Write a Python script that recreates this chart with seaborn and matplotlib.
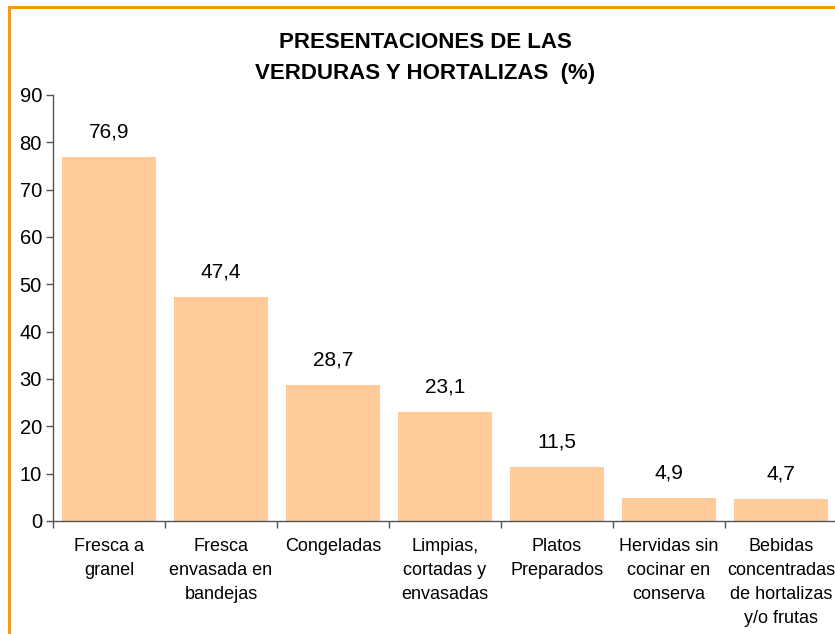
import matplotlib
matplotlib.use("Agg")
import matplotlib.pyplot as plt
import seaborn as sns
import pandas as pd
from matplotlib.patches import Rectangle
from matplotlib.ticker import FixedLocator

categories = [
    "Fresca a\ngranel",
    "Fresca\nenvasada en\nbandejas",
    "Congeladas",
    "Limpias,\ncortadas y\nenvasadas",
    "Platos\nPreparados",
    "Hervidas sin\ncocinar en\nconserva",
    "Bebidas\nconcentradas\nde hortalizas\ny/o frutas",
]
values = [76.9, 47.4, 28.7, 23.1, 11.5, 4.9, 4.7]
value_labels = ["76,9", "47,4", "28,7", "23,1", "11,5", "4,9", "4,7"]
y_ticks = [0, 10, 20, 30, 40, 50, 60, 70, 80, 90]

sns.set_style("white")
plt.rcParams["font.family"] = ["Liberation Sans", "DejaVu Sans"]
plt.rcParams["text.color"] = "black"

W, H = 835, 634
fig = plt.figure(figsize=(W / 100, H / 100), dpi=100)
fig.patch.set_facecolor("white")

# orange frame around the chart area
fig.patches.append(Rectangle((9 / W, -0.05), 1.2, (H - 7) / H + 0.05,
                             transform=fig.transFigure, fill=False,
                             edgecolor="#FF9900", linewidth=2.2))

ax = fig.add_axes([53 / W, (H - 521) / H, (837 - 53) / W, (521 - 95) / H])
ax.set_facecolor("none")

df = pd.DataFrame({"cat": categories, "val": values})
sns.barplot(data=df, x="cat", y="val", color="#FFCC99", saturation=1,
            width=0.84, ax=ax, edgecolor="none")

ax.set_xlim(-0.5, len(categories) - 0.5)
ax.set_ylim(0, 90)
ax.set_yticks(y_ticks)
ax.set_xlabel("")
ax.set_ylabel("")

for i, (v, lab) in enumerate(zip(values, value_labels)):
    ax.annotate(lab, (i, v), xytext=(0, 11), textcoords="offset points",
                ha="center", va="bottom", fontsize=15, color="black")

for s in ["top", "right"]:
    ax.spines[s].set_visible(False)
for s in ["left", "bottom"]:
    ax.spines[s].set_color("#555555")
    ax.spines[s].set_linewidth(1.0)

ax.tick_params(axis="y", which="major", direction="out", length=5, width=1,
               color="#555555", labelsize=14.5, labelcolor="black", pad=3, left=True)
ax.tick_params(axis="x", which="major", length=0, labelsize=13,
               labelcolor="black", pad=12)
ax.xaxis.set_minor_locator(FixedLocator([i - 0.5 for i in range(len(categories) + 1)]))
ax.tick_params(axis="x", which="minor", direction="out", length=5, width=1,
               color="#555555", bottom=True)
for t in ax.get_xticklabels():
    t.set_linespacing(1.55)
    t.set_va("top")

fig.text(425 / W, 1 - 42 / H, "PRESENTACIONES DE LAS", ha="center", va="center",
         fontsize=16, fontweight="bold", color="black")
fig.text(425 / W, 1 - 73 / H, "VERDURAS Y HORTALIZAS  (%)", ha="center", va="center",
         fontsize=16, fontweight="bold", color="black")

fig.savefig("out.png", dpi=100)
